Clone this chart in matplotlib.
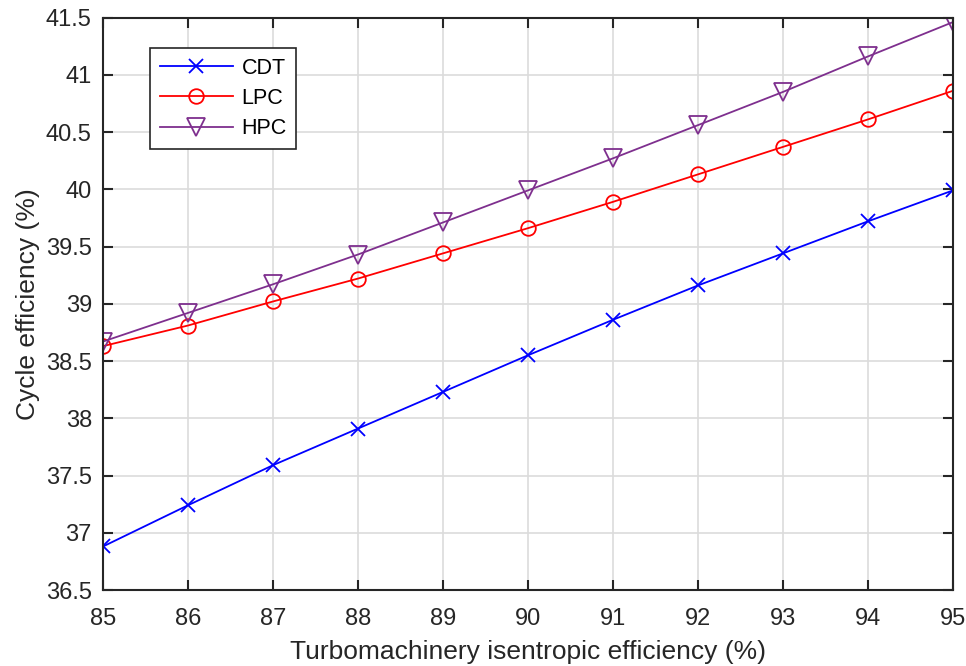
import matplotlib.pyplot as plt

plt.rcParams['font.family'] = ['Liberation Sans', 'DejaVu Sans']

# data
eff = [85, 86, 87, 88, 89, 90, 91, 92, 93, 94, 95]
cdt = [36.88, 37.24, 37.59, 37.91, 38.23, 38.55, 38.86, 39.16, 39.44, 39.72, 39.99]
lpc = [38.63, 38.81, 39.02, 39.22, 39.44, 39.66, 39.89, 40.13, 40.37, 40.61, 40.86]
hpc = [38.67, 38.92, 39.17, 39.43, 39.71, 39.99, 40.27, 40.56, 40.85, 41.16, 41.46]

yticks = [36.5, 37, 37.5, 38, 38.5, 39, 39.5, 40, 40.5, 41, 41.5]
ytick_labels = ['36.5', '37', '37.5', '38', '38.5', '39', '39.5', '40', '40.5', '41', '41.5']

fig = plt.figure(figsize=(9.66, 6.66), dpi=100)
ax = fig.add_axes([0.1066, 0.1141, 0.8799, 0.8596])

ax.plot(eff, cdt, color='#0000ff', marker='x', ms=10, mew=1.3, lw=1.3, label='CDT')
ax.plot(eff, lpc, color='#ff0000', marker='o', ms=10.5, mfc='none', mew=1.3, lw=1.3, label='LPC')
ax.plot(eff, hpc, color='#7e2f8e', marker='v', ms=13, mfc='none', mew=1.3, lw=1.3, label='HPC')

ax.set_xlim(85, 95)
ax.set_ylim(36.5, 41.5)
ax.set_xticks(eff)
ax.set_yticks(yticks)
ax.set_yticklabels(ytick_labels)
ax.grid(True, color='#dcdcdc', lw=1.2)
ax.set_axisbelow(True)
ax.tick_params(direction='in', top=True, right=True, length=7, width=1.5,
               labelsize=17, colors='#262626')
ax.tick_params(axis='x', pad=13)
ax.tick_params(axis='y', pad=8)
for s in ax.spines.values():
    s.set_linewidth(1.5)
    s.set_color('#262626')

ax.set_xlabel('Turbomachinery isentropic efficiency (%)', fontsize=19, color='#262626', labelpad=7)
ax.set_ylabel('Cycle efficiency (%)', fontsize=19, color='#262626', labelpad=4)

leg = ax.legend(loc='upper left', bbox_to_anchor=(0.0553, 0.9467), fontsize=15.5,
                fancybox=False, framealpha=1, edgecolor='#262626',
                handlelength=3.4, handletextpad=0.4, borderpad=0.45,
                labelspacing=0.43, borderaxespad=0)
leg.get_frame().set_linewidth(1.2)

fig.savefig('out.png', dpi=100)
